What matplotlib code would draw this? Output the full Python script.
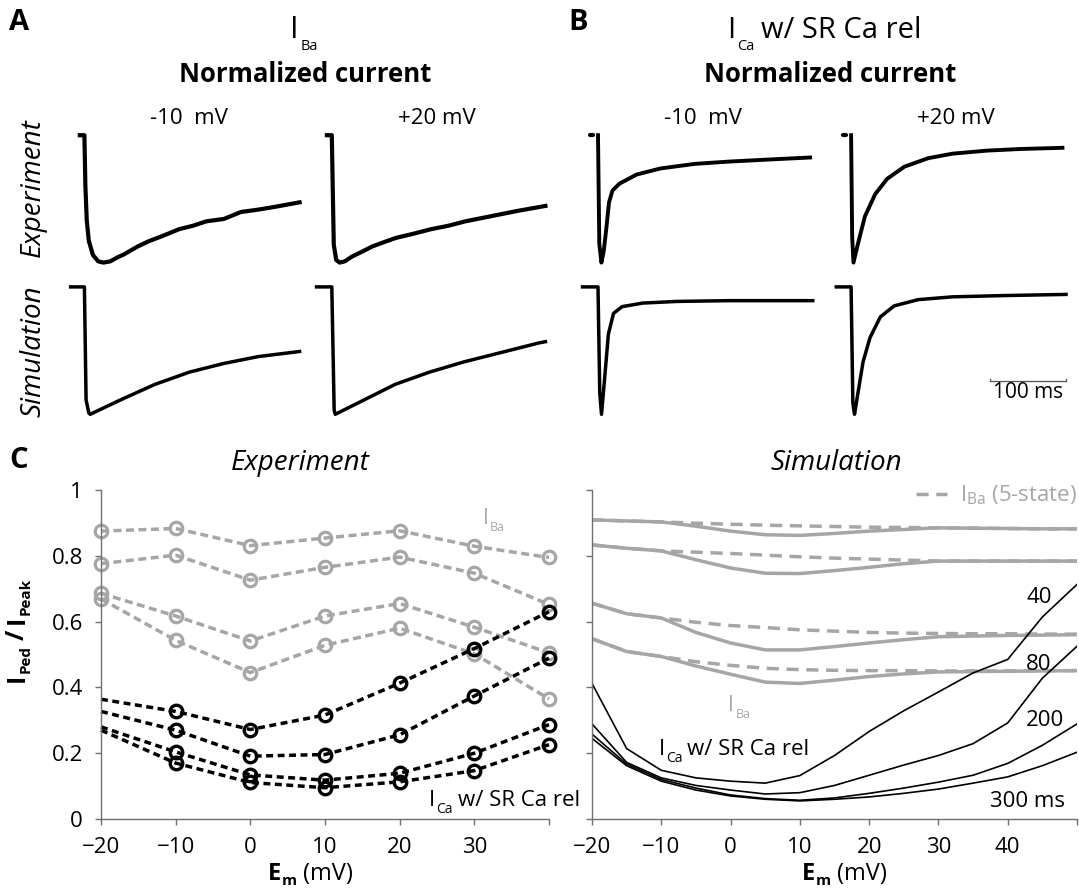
import matplotlib
matplotlib.use('Agg')
import matplotlib.pyplot as plt
from matplotlib.lines import Line2D
from matplotlib.transforms import offset_copy

plt.rcParams['font.family'] = ['Open Sans', 'DejaVu Sans']
plt.rcParams['mathtext.fontset'] = 'custom'
plt.rcParams['mathtext.rm'] = 'Open Sans'
plt.rcParams['mathtext.it'] = 'Open Sans:italic'
plt.rcParams['mathtext.bf'] = 'Open Sans:bold'

W, H = 1079, 892
GRAY = '#a6a6a6'
AXC = '#707070'

# ---- A/B traces: time from pulse onset (ms), current normalized to peak
aExpM10T = [-6, 0, 1.3, 3.1, 5.8, 11.2, 18, 25, 34, 43, 52, 70, 84, 102, 124, 142, 160, 183, 205, 228, 250, 282]
aExpM10I = [0, 0, -0.40, -0.67, -0.83, -0.94, -0.99, -1.0, -0.99, -0.96, -0.935, -0.873, -0.833, -0.792,
            -0.738, -0.711, -0.676, -0.657, -0.603, -0.584, -0.562, -0.527]
aExpP20T = [-6.4, 0, 2.6, 5.8, 10.4, 17.1, 26.1, 39.7, 53.2, 71.3, 84.8, 107.3, 129.9, 152.5, 175.1,
            197.6, 220.2, 242.7, 273.5, 280]
aExpP20I = [0, 0, -0.86, -0.98, -1.0, -0.99, -0.954, -0.914, -0.873, -0.833, -0.805, -0.773, -0.738,
            -0.711, -0.676, -0.649, -0.622, -0.595, -0.562, -0.555]
aSimM10T = [-18, 0, 2.2, 5.8, 7.6, 47.3, 92.5, 137.6, 182.7, 227.9, 282]
aSimM10I = [0, 0, -0.887, -0.99, -1.0, -0.887, -0.765, -0.669, -0.601, -0.547, -0.507]
aSimP20T = [-20, 0, 3.1, 4.5, 38, 83, 128, 173.5, 218.6, 272, 280]
aSimP20I = [0, 0, -0.968, -1.0, -0.90, -0.765, -0.669, -0.588, -0.520, -0.439, -0.43]

bExpM10T = [0, 1.7, 4.5, 7.6, 10.7, 14.4, 18.9, 27.9, 50.5, 81.9, 127, 172, 217, 278]
bExpM10I = [0, -0.852, -1.0, -0.906, -0.744, -0.529, -0.435, -0.381, -0.309, -0.261, -0.225, -0.207,
            -0.193, -0.175]
bExpP20T = [0, 1.4, 3.1, 9.0, 18.1, 31.6, 47.3, 69.9, 101.3, 132.9, 178, 223, 277]
bExpP20I = [0, -0.798, -1.0, -0.852, -0.637, -0.462, -0.342, -0.247, -0.180, -0.145, -0.121, -0.108, -0.099]
bExpDotT = [-10, -7]
bExpDotI = [0, 0]
bSimM10T = [-20.3, 0, 2.3, 4.6, 9.0, 13.6, 20.3, 31.6, 58.6, 103.7, 171.3, 281.5]
bSimM10I = [0, 0, -0.832, -1.0, -0.696, -0.371, -0.208, -0.155, -0.127, -0.114, -0.108, -0.108]
bSimP20T = [-19.4, 0, 2.3, 4.5, 9.0, 15.7, 24.8, 38.3, 56.4, 87.9, 133, 200.6, 281.7]
bSimP20I = [0, 0, -0.913, -1.0, -0.832, -0.588, -0.398, -0.236, -0.149, -0.100, -0.078, -0.068, -0.059]

# ---- C experiment: I_Ped / I_Peak vs Em
emExp = [-20, -10, 0, 10, 20, 30, 40]
baExp = [
    [0.875, 0.883, 0.831, 0.854, 0.876, 0.829, 0.795],
    [0.776, 0.802, 0.726, 0.765, 0.796, 0.747, 0.652],
    [0.686, 0.617, 0.541, 0.617, 0.655, 0.583, 0.505],
    [0.669, 0.543, 0.445, 0.528, 0.580, 0.502, 0.365],
]
caExp = [
    [0.364, 0.327, 0.272, 0.316, 0.413, 0.518, 0.630],
    [0.327, 0.270, 0.191, 0.196, 0.256, 0.374, 0.489],
    [0.280, 0.204, 0.134, 0.118, 0.139, 0.200, 0.287],
    [0.270, 0.170, 0.111, 0.095, 0.113, 0.147, 0.226],
]

# ---- C simulation
emSim = [-20, -15, -10, -5, 0, 5, 10, 15, 20, 25, 30, 35, 40, 45, 50]
baSim = [
    [0.909, 0.906, 0.903, 0.890, 0.875, 0.864, 0.862, 0.868, 0.875, 0.880, 0.885, 0.884, 0.883, 0.882, 0.882],
    [0.833, 0.823, 0.815, 0.788, 0.763, 0.747, 0.746, 0.755, 0.765, 0.776, 0.784, 0.784, 0.784, 0.784, 0.784],
    [0.656, 0.624, 0.611, 0.567, 0.535, 0.514, 0.514, 0.524, 0.535, 0.545, 0.554, 0.556, 0.558, 0.559, 0.560],
    [0.548, 0.509, 0.494, 0.465, 0.440, 0.416, 0.412, 0.422, 0.433, 0.441, 0.447, 0.448, 0.449, 0.450, 0.451],
]
ba5State = [
    [0.909, 0.906, 0.903, 0.899, 0.896, 0.893, 0.891, 0.889, 0.887, 0.886, 0.885, 0.884, 0.883, 0.882, 0.882],
    [0.833, 0.823, 0.815, 0.811, 0.807, 0.802, 0.797, 0.793, 0.790, 0.787, 0.784, 0.784, 0.784, 0.784, 0.784],
    [0.656, 0.624, 0.611, 0.598, 0.588, 0.582, 0.575, 0.571, 0.567, 0.565, 0.564, 0.563, 0.563, 0.562, 0.562],
    [0.548, 0.509, 0.494, 0.478, 0.467, 0.458, 0.454, 0.452, 0.451, 0.451, 0.450, 0.450, 0.450, 0.451, 0.451],
]
caSim = [
    [0.412, 0.214, 0.148, 0.125, 0.115, 0.109, 0.132, 0.193, 0.266, 0.329, 0.386, 0.444, 0.485, 0.614, 0.713],
    [0.289, 0.172, 0.125, 0.102, 0.088, 0.076, 0.080, 0.102, 0.133, 0.164, 0.193, 0.229, 0.292, 0.428, 0.525],
    [0.258, 0.167, 0.120, 0.094, 0.073, 0.062, 0.057, 0.064, 0.078, 0.094, 0.112, 0.133, 0.169, 0.224, 0.289],
    [0.245, 0.162, 0.115, 0.088, 0.070, 0.060, 0.055, 0.060, 0.067, 0.078, 0.091, 0.109, 0.128, 0.162, 0.203],
]
durLabels = ['40', '80', '200', '300 ms']

fig = plt.figure(figsize=(W / 100, H / 100), dpi=100)


def pxAxes(x0, y0, x1, y1):
    return fig.add_axes([x0 / W, 1 - y1 / H, (x1 - x0) / W, (y1 - y0) / H])


def ftext(x, y, s, **kw):
    return fig.text(x / W, 1 - y / H, s, **kw)


def richText(x, y, parts, transform, ha='left', color='black', rotation=0):
    # parts: (text, size, drop_px, gap_px, weight, style)
    r = fig.canvas.get_renderer()
    texts, widths = [], []
    for s, size, drop, gap, weight, style in parts:
        t = fig.text(0, 0, s, fontsize=size, color=color, va='baseline', ha='left',
                     rotation=rotation, rotation_mode='anchor', fontweight=weight, fontstyle=style)
        ext = t.get_window_extent(r)
        texts.append(t)
        widths.append(ext.width if rotation == 0 else ext.height)
    total = sum(widths) + sum(p[3] for p in parts)
    pos = -total / 2 if ha == 'center' else 0
    for t, w, p in zip(texts, widths, parts):
        pos += p[3]
        if rotation == 0:
            dx, dy = pos, -p[2]
        else:
            dx, dy = p[2], pos
        t.set_position((x, y))
        t.set_transform(offset_copy(transform, fig=fig, x=dx, y=dy, units='dots'))
        pos += w


# ---- trace panels
PX_MS = 0.763
PX_UNIT = 127.4
colX = [84.4, 331.8, 598.0, 851.1]
rowY = [135.2, 286.9]
traces = [
    (0, 0, aExpM10T, aExpM10I, 3.0), (1, 0, aExpP20T, aExpP20I, 3.0),
    (0, 1, aSimM10T, aSimM10I, 2.5), (1, 1, aSimP20T, aSimP20I, 2.5),
    (2, 0, bExpM10T, bExpM10I, 2.8), (3, 0, bExpP20T, bExpP20I, 2.8),
    (2, 1, bSimM10T, bSimM10I, 2.5), (3, 1, bSimP20T, bSimP20I, 2.5),
]
traceAxes = {}
for c, rw, t, i, lw in traces:
    ax = pxAxes(colX[c] - 30 * PX_MS, rowY[rw] - 0.1 * PX_UNIT,
                colX[c] + 300 * PX_MS, rowY[rw] + 1.1 * PX_UNIT)
    ax.set_xlim(-30, 300)
    ax.set_ylim(-1.1, 0.1)
    ax.axis('off')
    ax.plot(t, i, color='black', lw=lw, solid_joinstyle='round', clip_on=False)
    if c >= 2 and rw == 0:
        ax.plot(bExpDotT, bExpDotI, color='black', lw=3, solid_capstyle='round')
    traceAxes[(c, rw)] = ax

# scale bar 100 ms
sb = traceAxes[(3, 1)]
sb.plot([181.5, 281.5], [-0.74, -0.74], color='#555555', lw=0.9)
sb.plot([181.5, 181.5], [-0.74, -0.72], color='#555555', lw=0.9)
sb.plot([281.5, 281.5], [-0.74, -0.72], color='#555555', lw=0.9)
sb.text(231.5, -0.83, '100 ms', ha='center', va='center', fontsize=15)

for c in range(4):
    lbl = '-10  mV' if c % 2 == 0 else '+20 mV'
    ftext(colX[c] + 105, 118, lbl, ha='center', va='center', fontsize=16)

ftext(33, 188, 'Experiment', rotation=90, ha='center', va='center', fontsize=20, fontstyle='italic')
ftext(33, 351, 'Simulation', rotation=90, ha='center', va='center', fontsize=20, fontstyle='italic')

# headers
ftext(19, 22, 'A', ha='center', va='center', fontsize=21, fontweight='bold')
ftext(578, 22, 'B', ha='center', va='center', fontsize=21, fontweight='bold')
ftext(19, 460, 'C', ha='center', va='center', fontsize=21, fontweight='bold')
figTr = fig.transFigure
richText(290 / W, 1 - 38 / H, [('I', 22, 0, 0, 'normal', 'normal'), ('Ba', 10.5, 12, 2, 'normal', 'normal')],
         figTr)
richText(727 / W, 1 - 38 / H, [('I', 21, 0, 0, 'normal', 'normal'), ('Ca', 10.5, 12, 2, 'normal', 'normal'),
                               ('w/ SR Ca rel', 21, 0, 6, 'normal', 'normal')], figTr)
ftext(305, 82, 'Normalized current', ha='center', va='baseline', fontsize=18.5, fontweight='bold')
ftext(830, 82, 'Normalized current', ha='center', va='baseline', fontsize=18.5, fontweight='bold')

# ---- panel C
axL = pxAxes(101, 490, 549, 819)
axR = pxAxes(592, 490, 1077, 819)
for ax in (axL, axR):
    ax.set_ylim(0, 1)
    ax.set_yticks([0, 0.2, 0.4, 0.6, 0.8, 1])
    for s in ('top', 'right'):
        ax.spines[s].set_visible(False)
    for s in ('left', 'bottom'):
        ax.spines[s].set_color(AXC)
        ax.spines[s].set_linewidth(1.0)
    ax.tick_params(direction='out', length=4, width=1.0, color=AXC, labelsize=16, pad=9)
    ax.set_facecolor('none')

axL.set_xlim(-20, 40)
axL.set_xticks([-20, -10, 0, 10, 20, 30, 40])
axL.set_xticklabels(['\u221220', '\u221210', '0', '10', '20', '30', ''])
axL.set_yticklabels(['0', '0.2', '0.4', '0.6', '0.8', '1'])
axR.set_xlim(-20, 50)
axR.set_xticks([-20, -10, 0, 10, 20, 30, 40, 50])
axR.set_xticklabels(['\u221220', '\u221210', '0', '10', '20', '30', '40', ''])
axR.set_yticklabels([])

for ys in baExp:
    axL.plot(emExp, ys, color=GRAY, lw=2.5, ls=(0, (2.3, 1.3)), marker='o', ms=9, mfc='none',
             mew=2.3, mec=GRAY, clip_on=False)
for ys in caExp:
    axL.plot(emExp, ys, color='black', lw=2.5, ls=(0, (2.0, 1.3)), marker='o', ms=9, mfc='none',
             mew=2.4, mec='black', markevery=list(range(1, len(emExp))), clip_on=False)

for ys in baSim:
    axR.plot(emSim, ys, color=GRAY, lw=2.5, solid_joinstyle='round')
for ys in ba5State:
    axR.plot(emSim, ys, color=GRAY, lw=2.5, ls=(0, (3.5, 2.2)))
for ys in caSim:
    axR.plot(emSim, ys, color='black', lw=1.2)

for lbl, xv, yv in zip(durLabels, [44.5, 44.5, 45.4, 42.8], [0.656, 0.454, 0.284, 0.036]):
    axR.text(xv, yv, lbl, ha='center', va='baseline', fontsize=16)

leg = axR.legend(handles=[Line2D([], [], color=GRAY, lw=2.5, ls=(0, (3.5, 2.2)))],
                 labels=['I$_{\\rm Ba}$ (5-state)'], loc='upper right', bbox_to_anchor=(1.0, 1.02),
                 frameon=False, fontsize=16, handlelength=1.4, handletextpad=0.6, borderaxespad=0,
                 borderpad=0, labelcolor=GRAY)

richText(31.1, 0.898, [('I', 15, 0, 0, 'normal', 'normal'), ('Ba', 9, 7, 1, 'normal', 'normal')],
         axL.transData, color=GRAY)
richText(23.9, 0.040, [('I', 16, 0, 0, 'normal', 'normal'), ('Ca', 10, 7, 1, 'normal', 'normal'),
                       ('w/ SR Ca rel', 16, 0, 5, 'normal', 'normal')], axL.transData)
richText(-0.3, 0.329, [('I', 15, 0, 0, 'normal', 'normal'), ('Ba', 9, 7, 1, 'normal', 'normal')],
         axR.transData, color=GRAY)
richText(-10.4, 0.196, [('I', 16, 0, 0, 'normal', 'normal'), ('Ca', 10, 7, 1, 'normal', 'normal'),
                        ('w/ SR Ca rel', 16, 0, 5, 'normal', 'normal')], axR.transData)

ftext(300, 470, 'Experiment', ha='center', va='baseline', fontsize=20, fontstyle='italic')
ftext(836, 470, 'Simulation', ha='center', va='baseline', fontsize=20, fontstyle='italic')

emParts = [('E', 17, 0, 0, 'bold', 'normal'), ('m', 11, 5, 1, 'bold', 'normal'),
           ('(mV)', 17, 0, 6, 'normal', 'normal')]
richText(310 / W, 1 - 880 / H, emParts, figTr, ha='center')
richText(844 / W, 1 - 880 / H, emParts, figTr, ha='center')

yParts = [('I', 18, 0, 0, 'bold', 'normal'), ('Ped', 11, 6, 1, 'bold', 'normal'),
          ('/', 18, 0, 5, 'bold', 'normal'), ('I', 18, 0, 5, 'bold', 'normal'),
          ('Peak', 11, 6, 1, 'bold', 'normal')]
richText(24 / W, 1 - 630 / H, yParts, figTr, ha='center', rotation=90)

fig.savefig('out.png', dpi=100, facecolor='white')
